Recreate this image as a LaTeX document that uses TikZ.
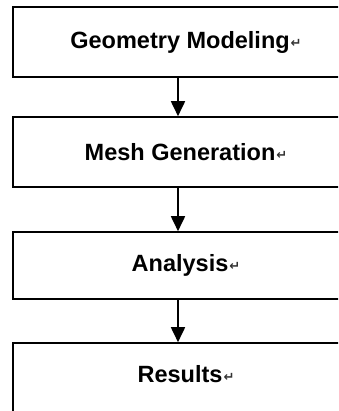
\documentclass[tikz,border=0pt]{standalone}
\usepackage{fontspec}
\setmainfont{Liberation Sans}
\newfontfamily\symfont{DejaVu Sans}
\usetikzlibrary{arrows.meta}
% paragraph-return mark that follows each label
\newcommand{\retmark}{\hspace{1pt}{\symfont\fontsize{13}{13}\selectfont\color{black!80}\raisebox{1pt}{↵}}}
\tikzset{
  x=1pt, y=-1pt,
  stepbox/.style={draw=black, line width=1.6pt, minimum width=346pt,
    minimum height=70pt, inner sep=0pt,
    font=\bfseries\fontsize{23.5}{26}\selectfont},
  flow/.style={draw=black, line width=1.8pt,
    -{Triangle[width=14pt,length=15pt]}, shorten >=0pt}
}
\begin{document}
\begin{tikzpicture}
  \clip (0,0) rectangle (338,411);
  \fill[white] (0,0) rectangle (338,411);
  % the four processing stages
  \node[stepbox] (geo) at (186,42) {Geometry Modeling\retmark};
  \node[stepbox] (mesh) at (186,152) {Mesh Generation\retmark};
  \node[stepbox, minimum height=67pt] (ana) at (186,265.5) {Analysis\retmark};
  \node[stepbox, text height=17.5pt, text depth=9.5pt] (res) at (186,378) {Results\retmark};
  % flow between stages
  \draw[flow] ([xshift=-8pt]geo.south) -- ([xshift=-8pt]mesh.north);
  \draw[flow] ([xshift=-8pt]mesh.south) -- ([xshift=-8pt]ana.north);
  \draw[flow] ([xshift=-8pt]ana.south) -- ([xshift=-8pt]res.north);
\end{tikzpicture}
\end{document}
